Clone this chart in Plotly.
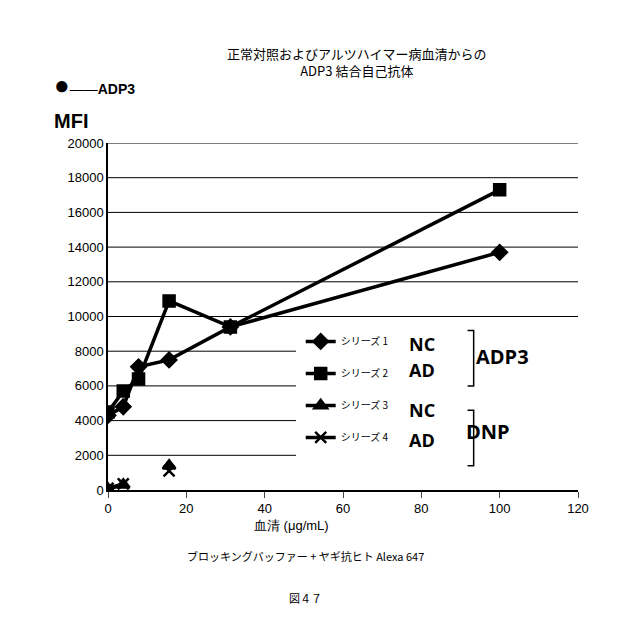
import plotly.graph_objects as go

# serum concentration (ug/mL)
conc = [0, 3.9, 7.8, 15.6, 31.25, 100]
nc_adp3 = [4300, 4800, 7100, 7500, 9400, 13700]
ad_adp3 = [4500, 5700, 6400, 10900, 9400, 17300]
conc_dnp = [0, 3.9, None, 15.6]
nc_dnp = [50, 300, None, 1400]
ad_dnp = [100, 350, None, 1100]
grid_levels = list(range(2000, 20001, 2000))

names = ["シリーズ 1", "シリーズ 2", "シリーズ 3", "シリーズ 4"]
symbols = ["diamond", "square", "triangle-up", "x-thin-open"]

fig = go.Figure()

# gridlines: lower ones stop where the legend block starts
for g in grid_levels:
    fig.add_shape(type="line", xref="paper", yref="y", x0=0, x1=1.0 if g >= 10000 else 0.40,
                  y0=g, y1=g, line=dict(color="black", width=1), layer="below")

series = [(conc, nc_adp3), (conc, ad_adp3), (conc_dnp, nc_dnp), (conc_dnp, ad_dnp)]
for i, (xs, ys) in enumerate(series):
    fig.add_trace(go.Scatter(
        x=xs, y=ys, name=names[i], mode="lines+markers", legendgroup=str(i),
        line=dict(color="black", width=3.5),
        marker=dict(symbol=symbols[i], size=11, color="black",
                    line=dict(color="black", width=2.5)),
        connectgaps=False,
    ))

ann = [
    dict(x=0.7, y=0.42, text="<b>NC</b>"), dict(x=0.7, y=0.345, text="<b>AD</b>"),
    dict(x=0.7, y=0.19, text="<b>NC</b>"), dict(x=0.7, y=0.105, text="<b>AD</b>"),
    dict(x=0.9, y=0.385, text="<b>ADP3</b>", size=20), dict(x=0.86, y=0.125, text="<b>DNP</b>", size=20),
]
for a in ann:
    fig.add_annotation(xref="paper", yref="paper", x=a["x"], y=a["y"], text=a["text"], showarrow=False,
                       font=dict(size=a.get("size", 18), family="Open Sans", color="black"))
for y0, y1 in [(0.30, 0.46), (0.07, 0.23)]:
    fig.add_shape(type="path", xref="paper", yref="paper",
                  path=f"M 0.765 {y1} L 0.778 {y1} L 0.778 {y0} L 0.765 {y0}",
                  line=dict(color="black", width=1.5))

fig.add_annotation(xref="paper", yref="paper", x=0.53, y=1.29, showarrow=False,
                   text="正常対照およびアルツハイマー病血清からの<br>ADP3 結合自己抗体",
                   font=dict(size=13, family="Noto Sans CJK JP", color="black"))
fig.add_annotation(xref="paper", yref="paper", x=-0.12, y=1.215, showarrow=False, xanchor="left",
                   text="<span style='font-size:26px'>●</span>——<b>ADP3</b>",
                   font=dict(size=14, family="Liberation Sans", color="black"))
fig.add_annotation(xref="paper", yref="paper", x=-0.12, y=1.1, showarrow=False, xanchor="left",
                   text="<b>MFI</b>", font=dict(size=20, family="Liberation Sans", color="black"))
fig.add_annotation(xref="paper", yref="paper", x=0.39, y=-0.13, showarrow=False,
                   text="血清 (μg/mL)", font=dict(size=13, color="black"))
fig.add_annotation(xref="paper", yref="paper", x=0.42, y=-0.22, showarrow=False,
                   text="ブロッキングバッファー + ヤギ抗ヒト Alexa 647",
                   font=dict(size=11, family="Noto Sans CJK JP", color="black"))
fig.add_annotation(xref="paper", yref="paper", x=0.42, y=-0.34, showarrow=False,
                   text="図４７", font=dict(size=11, family="Noto Sans CJK JP", color="black"))

fig.update_xaxes(range=[0, 120], dtick=20, showgrid=False, showline=True, linecolor="black",
                 linewidth=1.5, ticks="outside", ticklen=6, zeroline=False,
                 tickfont=dict(size=13, color="black"))
fig.update_yaxes(range=[0, 20000], dtick=2000, tickformat="d", showgrid=False,
                 showline=True, linecolor="black", linewidth=1.5, zeroline=False,
                 tickfont=dict(size=13, color="black", family="Liberation Sans"))
fig.update_layout(
    width=640, height=632, plot_bgcolor="white", paper_bgcolor="white",
    margin=dict(l=100, r=70, t=135, b=150),
    font=dict(family="Liberation Sans"),
    legend=dict(x=0.41, y=0.47, xanchor="left", yanchor="top", bgcolor="rgba(0,0,0,0)",
                tracegroupgap=13, font=dict(size=10, family="Noto Sans CJK JP", color="black")),
)
fig.write_html("out.html")
